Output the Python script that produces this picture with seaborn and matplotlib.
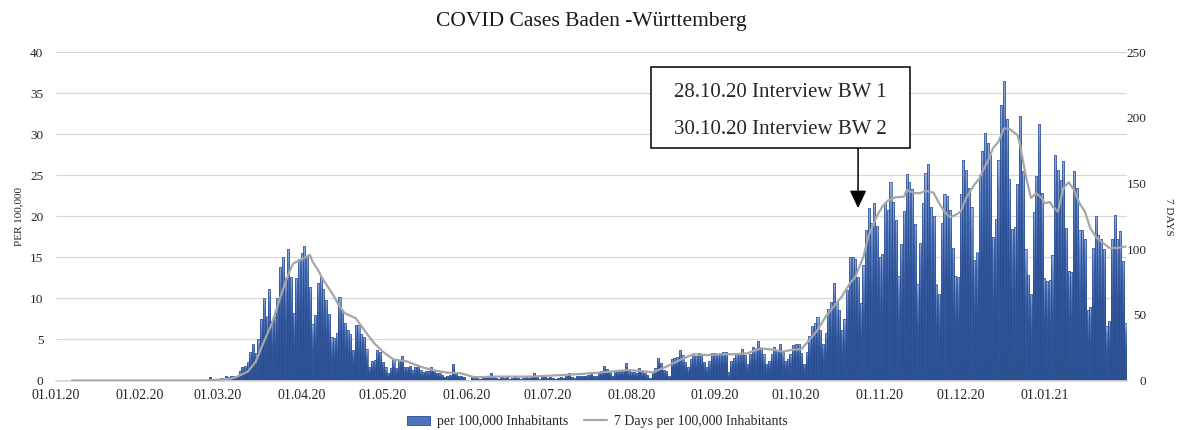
import matplotlib
matplotlib.use("Agg")
import matplotlib.pyplot as plt
import numpy as np
import pandas as pd
import seaborn as sns
from matplotlib.colors import LinearSegmentedColormap
from matplotlib.lines import Line2D
from matplotlib.patches import Patch, Rectangle


# ---------------------------------------------------------
# Daily cases per 100,000 inhabitants, one list per month
# ---------------------------------------------------------

jan20 = [0.0] * 31
feb20 = [0.0] * 25 + [0.05, 0.4, 0.05, 0.1]
mar20 = [0.2, 0.3, 0.35, 0.5, 0.4, 0.6, 0.5, 0.4, 1.1, 1.6,
         1.8, 2.3, 3.5, 4.4, 3.3, 5.1, 7.5, 10.1, 7.8, 11.2,
         7.2, 7.8, 10.0, 13.8, 15.0, 12.5, 16.0, 12.6, 8.2, 12.5,
         14.8]
apr20 = [15.5, 16.4, 15.2, 11.4, 6.9, 8.0, 11.9, 12.6, 11.2, 9.8,
         8.1, 5.3, 5.2, 5.8, 10.2, 8.6, 7.0, 6.2, 5.7, 3.7,
         6.8, 6.8, 5.7, 5.3, 3.8, 1.7, 2.4, 2.5, 3.7, 3.5]
may20 = [2.3, 1.6, 0.9, 1.5, 2.5, 1.5, 2.5, 3.0, 1.7, 1.6,
         1.8, 1.3, 1.6, 1.9, 1.3, 1.0, 1.2, 1.1, 1.6, 1.3,
         0.9, 0.9, 0.7, 0.4, 0.5, 0.7, 2.0, 0.9, 0.5, 0.5,
         0.4]
jun20 = [0.1, 0.1, 0.4, 0.6, 0.3, 0.2, 0.3, 0.4, 0.5, 0.95,
         0.5, 0.3, 0.2, 0.4, 0.3, 0.4, 0.2, 0.3, 0.4, 0.3,
         0.2, 0.3, 0.4, 0.3, 0.5, 0.9, 0.4, 0.2, 0.6, 0.4]
jul20 = [0.3, 0.4, 0.3, 0.2, 0.3, 0.4, 0.3, 0.5, 0.9, 0.4,
         0.3, 0.5, 0.6, 0.5, 0.6, 0.7, 1.0, 0.5, 0.6, 0.9,
         1.1, 1.8, 1.4, 1.0, 0.6, 1.2, 1.1, 1.1, 1.2, 2.1,
         1.1]
aug20 = [1.0, 1.0, 0.9, 1.5, 1.0, 0.9, 0.7, 0.3, 1.0, 1.5,
         2.7, 2.1, 1.3, 1.1, 0.5, 2.6, 2.8, 2.9, 3.7, 3.1,
         2.3, 1.7, 2.6, 3.2, 3.0, 3.3, 3.1, 2.3, 1.6, 2.4,
         3.4]
sep20 = [3.4, 3.2, 3.4, 3.5, 3.5, 1.0, 2.4, 2.7, 3.4, 3.4,
         3.8, 3.1, 2.0, 3.2, 4.1, 3.9, 4.8, 4.0, 3.2, 2.0,
         2.4, 3.2, 4.1, 3.7, 4.4, 3.5, 2.4, 2.6, 3.2, 4.3]
oct20 = [4.45, 4.45, 3.3, 2.0, 3.5, 5.4, 6.6, 7.0, 7.7, 6.1,
         4.45, 5.8, 8.7, 9.6, 11.9, 9.6, 8.6, 6.1, 7.5, 11.0,
         15.1, 15.1, 14.8, 12.6, 9.4, 14.1, 18.3, 21.0, 19.2, 21.6,
         18.8]
nov20 = [15.0, 15.4, 21.6, 20.8, 24.2, 21.7, 19.6, 12.7, 16.6, 20.7,
         25.2, 24.2, 23.3, 19.1, 11.8, 16.8, 21.6, 25.3, 26.4, 21.1,
         20.0, 11.7, 10.6, 19.2, 22.7, 22.5, 20.8, 16.1, 12.7, 12.6]
dec20 = [22.7, 26.9, 25.7, 23.4, 21.2, 14.7, 15.6, 25.1, 28.0, 30.2,
         28.9, 27.5, 17.5, 19.7, 26.9, 33.6, 36.5, 31.9, 24.6, 18.5,
         18.7, 23.9, 32.2, 25.5, 16.0, 12.9, 10.5, 20.5, 24.9, 31.2,
         22.8]
jan21 = [12.5, 12.1, 12.3, 15.3, 27.5, 25.7, 24.4, 26.7, 18.6, 13.4,
         13.2, 25.5, 23.4, 18.4, 18.4, 17.3, 8.6, 9.0, 16.1, 20.1,
         17.7, 17.3, 16.0, 6.6, 7.2, 17.3, 20.2, 17.3, 18.2, 14.6,
         7.0]

# ---------------------------------------------------------
# 7 days per 100,000 inhabitants
# ---------------------------------------------------------

line_dates = [
    "07.01.20", "25.02.20", "01.03.20", "06.03.20", "08.03.20", "12.03.20",
    "15.03.20", "18.03.20", "21.03.20", "23.03.20", "26.03.20", "28.03.20",
    "29.03.20", "01.04.20", "04.04.20", "05.04.20", "07.04.20", "09.04.20",
    "11.04.20", "13.04.20", "15.04.20", "17.04.20", "21.04.20", "25.04.20",
    "28.04.20", "01.05.20", "05.05.20", "10.05.20", "15.05.20", "20.05.20",
    "25.05.20", "30.05.20", "04.06.20", "12.06.20", "25.06.20", "07.07.20",
    "17.07.20", "24.07.20", "31.07.20", "07.08.20", "09.08.20", "14.08.20",
    "19.08.20", "24.08.20", "29.08.20", "03.09.20", "08.09.20", "13.09.20",
    "18.09.20", "23.09.20", "26.09.20", "30.09.20", "03.10.20", "06.10.20",
    "09.10.20", "12.10.20", "16.10.20", "18.10.20", "21.10.20", "23.10.20",
    "26.10.20", "28.10.20", "31.10.20", "02.11.20", "04.11.20", "07.11.20",
    "10.11.20", "11.11.20", "14.11.20", "16.11.20", "18.11.20", "21.11.20",
    "23.11.20", "25.11.20", "27.11.20", "29.11.20", "01.12.20", "03.12.20",
    "06.12.20", "08.12.20", "09.12.20", "11.12.20", "13.12.20", "15.12.20",
    "17.12.20", "19.12.20", "22.12.20", "23.12.20", "25.12.20", "27.12.20",
    "29.12.20", "31.12.20", "01.01.21", "03.01.21", "04.01.21", "06.01.21",
    "08.01.21", "10.01.21", "12.01.21", "14.01.21", "16.01.21", "18.01.21",
    "20.01.21", "22.01.21", "25.01.21", "28.01.21", "31.01.21",
]
line_vals = [
    0, 0, 0.5, 1.6, 2.9, 6.7,
    14.4, 29.6, 43.6, 56.3, 75.3, 85.5,
    89.3, 92.4, 95.7, 90.6, 84.2, 76.6,
    70.3, 63.9, 56.3, 51.2, 47.5, 36,
    28, 22, 16, 14.5, 10.5, 7.6,
    6, 5.5, 2.4, 3, 3, 4.2,
    5.5, 6.7, 8, 6.7, 6.2, 10.5,
    15.6, 20, 19.4, 20, 20, 20.7,
    24.5, 23.3, 22, 23.5, 23.8, 31,
    38.5, 48.6, 59, 64, 74, 79,
    94.4, 111, 125.4, 132.5, 137, 139.6,
    140, 145, 142.7, 142.7, 144.5, 143,
    135, 128.7, 124.4, 126, 128.7, 139,
    149, 154, 159, 167, 177, 182,
    192, 191.7, 187, 179.5, 157, 139,
    142.7, 139, 135, 136, 132.5, 128.7,
    146.5, 151, 145, 135, 128.7, 116,
    109.6, 106, 101, 101, 102,
]

title = "COVID Cases Baden -Württemberg"
notes = ["28.10.20 Interview BW 1", "30.10.20 Interview BW 2"]
arrow_date = "24.10.20"


# ---------------------------------------------------------
# Build the frame
# ---------------------------------------------------------

start = pd.Timestamp("2020-01-01")
daily = (jan20 + feb20 + mar20 + apr20 + may20 + jun20 + jul20 + aug20
         + sep20 + oct20 + nov20 + dec20 + jan21)
df = pd.DataFrame({"day": np.arange(len(daily)), "value": daily})

line_df = pd.DataFrame({
    "day": (pd.to_datetime(line_dates, format="%d.%m.%y") - start).days,
    "value": line_vals,
})

month_starts = pd.date_range("2020-01-01", "2021-01-01", freq="MS")
tick_pos = (month_starts - start).days
tick_lab = month_starts.strftime("%d.%m.%y")


# ---------------------------------------------------------
# Plot
# ---------------------------------------------------------

sns.set_theme(style="white")
plt.rcParams["font.family"] = ["Liberation Serif", "DejaVu Serif"]

fig = plt.figure(figsize=(11.83, 4.30), dpi=100)
ax = fig.add_axes([0.0473, 0.1151, 0.9054, 0.7633])

sns.barplot(
    data=df, x="day", y="value",
    native_scale=True, orient="x",
    color="#3A60AA", saturation=1,
    width=0.8, errorbar=None, ax=ax
)

# Excel-like gradient fill on every bar
grad_cmap = LinearSegmentedColormap.from_list(
    "bar", [(0, "#2E5395"), (0.55, "#3459A3"), (0.85, "#5C82C9"), (1, "#93AFE2")]
)
grad = np.linspace(0, 1, 64).reshape(-1, 1)
for p in ax.patches:
    h = p.get_height()
    if h <= 0:
        continue
    x0 = p.get_x()
    w = p.get_width()
    ax.imshow(grad, extent=[x0, x0 + w, 0, h], origin="lower",
              aspect="auto", cmap=grad_cmap, interpolation="bilinear", zorder=1.5)
    p.set_facecolor("none")
    p.set_edgecolor("#2C4E8F")
    p.set_linewidth(0.5)
    p.set_zorder(2)

ax.set_xlim(0, len(daily) - 0.4)
ax.set_ylim(0, 40)
ax.set_yticks(range(0, 41, 5))
ax.set_xticks(tick_pos)
ax.set_xticklabels(tick_lab)
ax.set_axisbelow(True)
ax.yaxis.grid(True, color="#D9D9D9", linewidth=0.9)
ax.xaxis.grid(False)

for s in ["left", "right", "top"]:
    ax.spines[s].set_visible(False)
ax.spines["bottom"].set_color("#D9D9D9")

ax.tick_params(axis="x", length=3, color="#BFBFBF", pad=3, labelsize=10, labelcolor="#262626")
ax.tick_params(axis="y", length=0, pad=9, labelsize=9.5, labelcolor="#262626")
ax.set_xlabel("")
ax.set_ylabel("PER 100,000", fontsize=8, labelpad=5, color="#262626")

ax2 = ax.twinx()
sns.lineplot(data=line_df, x="day", y="value", ax=ax2, color="#A6A6A6", linewidth=1.6)
ax2.set_ylim(0, 250)
ax2.set_yticks(range(0, 251, 50))
for s in ax2.spines.values():
    s.set_visible(False)
ax2.grid(False)
ax2.tick_params(axis="y", length=0, pad=14, labelsize=9.5, labelcolor="#262626")
for lab in ax2.get_yticklabels():
    lab.set_horizontalalignment("right")
ax2.set_ylabel("7 DAYS", fontsize=8, rotation=270, labelpad=19, color="#262626")
ax2.set_xlim(ax.get_xlim())

fig.text(0.5, 0.949, title, ha="center", va="center", fontsize=15.5, color="#1a1a1a")

# Annotation box with arrow
fig.patches.append(Rectangle((0.5503, 0.6558), 0.2189, 0.1884, transform=fig.transFigure,
                             facecolor="white", edgecolor="black", linewidth=1.1, zorder=5))
fig.text(0.6594, 0.786, notes[0], ha="center", va="center", fontsize=15, zorder=6)
fig.text(0.6594, 0.700, notes[1], ha="center", va="center", fontsize=15, zorder=6)

arrow_x = (pd.to_datetime(arrow_date, format="%d.%m.%y") - start).days
ax.annotate(
    "", xy=(arrow_x, 21.0), xycoords="data",
    xytext=(arrow_x, 40 - (148 - 52.3) / 8.2), textcoords="data",
    arrowprops=dict(arrowstyle="-|>,head_length=0.83,head_width=0.39",
                    mutation_scale=13, color="black", lw=1.1,
                    shrinkA=0, shrinkB=0),
    annotation_clip=False, zorder=6
)

handles = [
    Patch(facecolor="#4E74BE", edgecolor="#2C4E8F", linewidth=0.6),
    Line2D([0], [0], color="#A6A6A6", linewidth=1.6),
]
fig.legend(handles, ["per 100,000 Inhabitants", "7 Days per 100,000 Inhabitants"],
           loc="center", bbox_to_anchor=(0.505, 0.019), ncol=2, frameon=False,
           fontsize=10, handlelength=1.6, columnspacing=1.2, handletextpad=0.5)

fig.savefig("out.png", dpi=100)
